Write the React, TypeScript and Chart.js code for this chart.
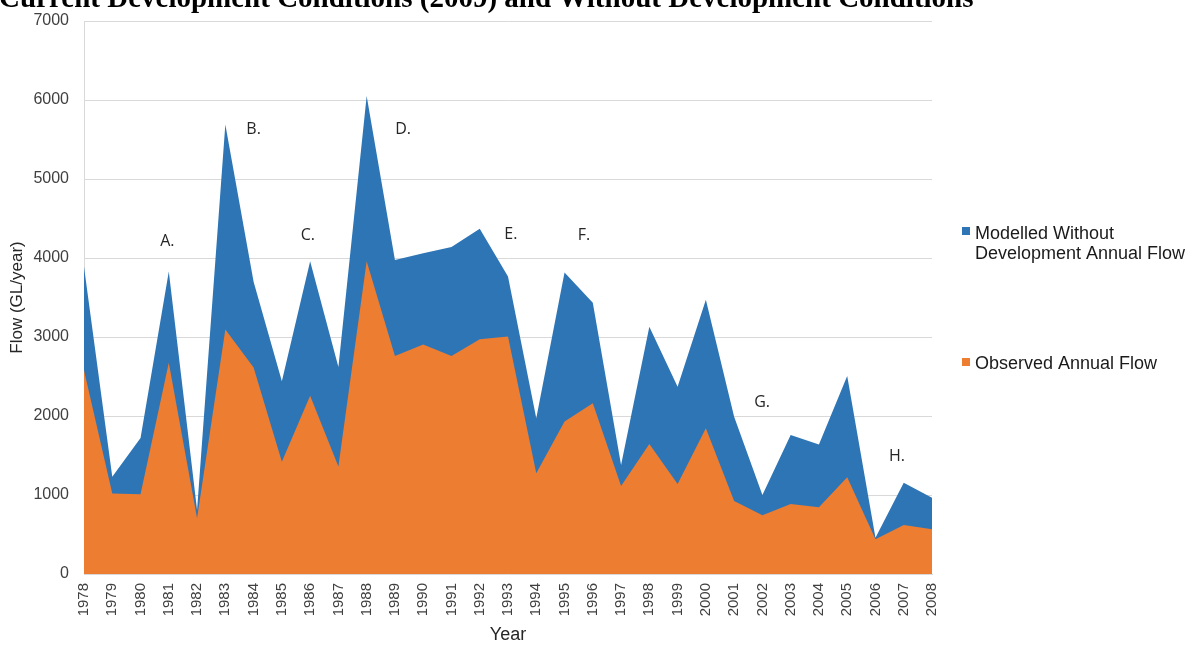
import React, { useEffect, useRef } from "react";
import { Chart, registerables } from "chart.js";

Chart.register(...registerables);

const years = [
  "1978", "1979", "1980", "1981", "1982", "1983", "1984", "1985", "1986", "1987",
  "1988", "1989", "1990", "1991", "1992", "1993", "1994", "1995", "1996", "1997",
  "1998", "1999", "2000", "2001", "2002", "2003", "2004", "2005", "2006", "2007", "2008",
];

const modelledFlow = [
  3890, 1230, 1720, 3830, 810, 5690, 3700, 2440, 3960, 2620,
  6050, 3975, 4060, 4140, 4370, 3765, 1970, 3815, 3435, 1380,
  3130, 2370, 3470, 1990, 1000, 1760, 1640, 2505, 460, 1155, 965,
];

const observedFlow = [
  2580, 1020, 1010, 2675, 705, 3095, 2615, 1420, 2255, 1360,
  3960, 2760, 2905, 2760, 2970, 3005, 1275, 1930, 2160, 1115,
  1645, 1140, 1845, 925, 745, 885, 845, 1225, 440, 620, 565,
];

const eventLabels = ["A.", "B.", "C.", "D.", "E.", "F.", "G.", "H."];
const eventX = [2.95, 6.0, 7.92, 11.29, 15.1, 17.69, 23.99, 28.76];
const eventY = [4215, 5633, 4291, 5633, 4304, 4291, 2177, 1494];

const titleText = "Current Development Conditions (2009) and Without Development Conditions";
const legendModelled = ["Modelled Without", "Development Annual Flow"];
const legendObserved = ["Observed Annual Flow"];

const BLUE = "#2E75B6";
const ORANGE = "#ED7D31";

const overlayPlugin = {
  id: "overlay",
  afterDraw(chart: any) {
    const ctx = chart.ctx;
    const xs = chart.scales.x;
    const ys = chart.scales.y;
    ctx.save();
    // title (partially cut off at top)
    ctx.fillStyle = "#000000";
    ctx.font = 'bold 29px "Liberation Serif", "Times New Roman", serif';
    ctx.textAlign = "left";
    ctx.textBaseline = "alphabetic";
    ctx.fillText(titleText, -1, 7);

    // event letters
    ctx.font = '16px "Open Sans", "Liberation Sans", sans-serif';
    ctx.fillStyle = "#262626";
    ctx.textAlign = "center";
    ctx.textBaseline = "middle";
    for (let i = 0; i < eventLabels.length; i++) {
      ctx.fillText(eventLabels[i], xs.getPixelForValue(eventX[i]), ys.getPixelForValue(eventY[i]));
    }

    // legend
    ctx.font = '18px "Liberation Sans", Arial, sans-serif';
    ctx.textAlign = "left";
    ctx.textBaseline = "alphabetic";
    ctx.fillStyle = BLUE;
    ctx.fillRect(962, 227, 8, 8);
    ctx.fillStyle = "#1a1a1a";
    ctx.fillText(legendModelled[0], 975, 238.5);
    ctx.fillText(legendModelled[1], 975, 258.5);
    ctx.fillStyle = ORANGE;
    ctx.fillRect(962, 358, 8, 8);
    ctx.fillStyle = "#1a1a1a";
    ctx.fillText(legendObserved[0], 975, 369);
    ctx.restore();
  },
};

export default function App() {
  const canvasRef = useRef<HTMLCanvasElement | null>(null);

  useEffect(() => {
    const canvas = canvasRef.current;
    if (!canvas) return;
    const chart = new Chart(canvas, {
      type: "line",
      data: {
        labels: years,
        datasets: [
          {
            label: "Observed Annual Flow",
            data: observedFlow,
            backgroundColor: ORANGE,
            borderColor: ORANGE,
            borderWidth: 0,
            pointRadius: 0,
            fill: "origin",
            tension: 0,
          },
          {
            label: "Modelled Without Development Annual Flow",
            data: modelledFlow,
            backgroundColor: BLUE,
            borderColor: BLUE,
            borderWidth: 0,
            pointRadius: 0,
            fill: "origin",
            tension: 0,
          },
        ],
      },
      options: {
        responsive: false,
        animation: false,
        devicePixelRatio: 1,
        layout: { padding: { left: 0, right: 262, top: 21, bottom: 0 } },
        plugins: {
          legend: { display: false },
          tooltip: { enabled: false },
          title: { display: false },
        },
        scales: {
          x: {
            grid: { display: false, drawTicks: false },
            border: { display: true, color: "#d9d9d9" },
            ticks: {
              autoSkip: false,
              maxRotation: 90,
              minRotation: 90,
              padding: 9,
              color: "#404040",
              font: { family: '"Liberation Sans", Arial, sans-serif', size: 15 },
            },
            title: {
              display: true,
              text: "Year",
              color: "#262626",
              padding: { top: 0, bottom: 0 },
              font: { family: '"Liberation Sans", Arial, sans-serif', size: 18 },
            },
            afterFit: (s: any) => {
              s.height = 72;
              s.paddingLeft = 0;
              s.paddingRight = 0;
            },
          },
          y: {
            min: 0,
            max: 7000,
            grid: { color: "#d9d9d9", drawTicks: false, lineWidth: 1 },
            border: { display: true, color: "#d9d9d9" },
            ticks: {
              stepSize: 1000,
              padding: 15,
              color: "#404040",
              font: { family: '"Liberation Sans", Arial, sans-serif', size: 16 },
              callback: (v: any) => String(v),
            },
            title: {
              display: true,
              text: "Flow (GL/year)",
              color: "#262626",
              padding: { top: 7, bottom: 0 },
              font: { family: '"Liberation Sans", Arial, sans-serif', size: 17 },
            },
            afterFit: (s: any) => {
              s.width = 84;
              s.paddingTop = 0;
              s.paddingBottom = 0;
            },
          },
        },
      },
      plugins: [overlayPlugin],
    });
    return () => chart.destroy();
  }, []);

  return (
    <div style={{ position: "fixed", left: 0, top: 0, width: 1194, height: 646, background: "#ffffff" }}>
      <canvas ref={canvasRef} width={1194} height={646} style={{ width: 1194, height: 646, display: "block" }} />
    </div>
  );
}
